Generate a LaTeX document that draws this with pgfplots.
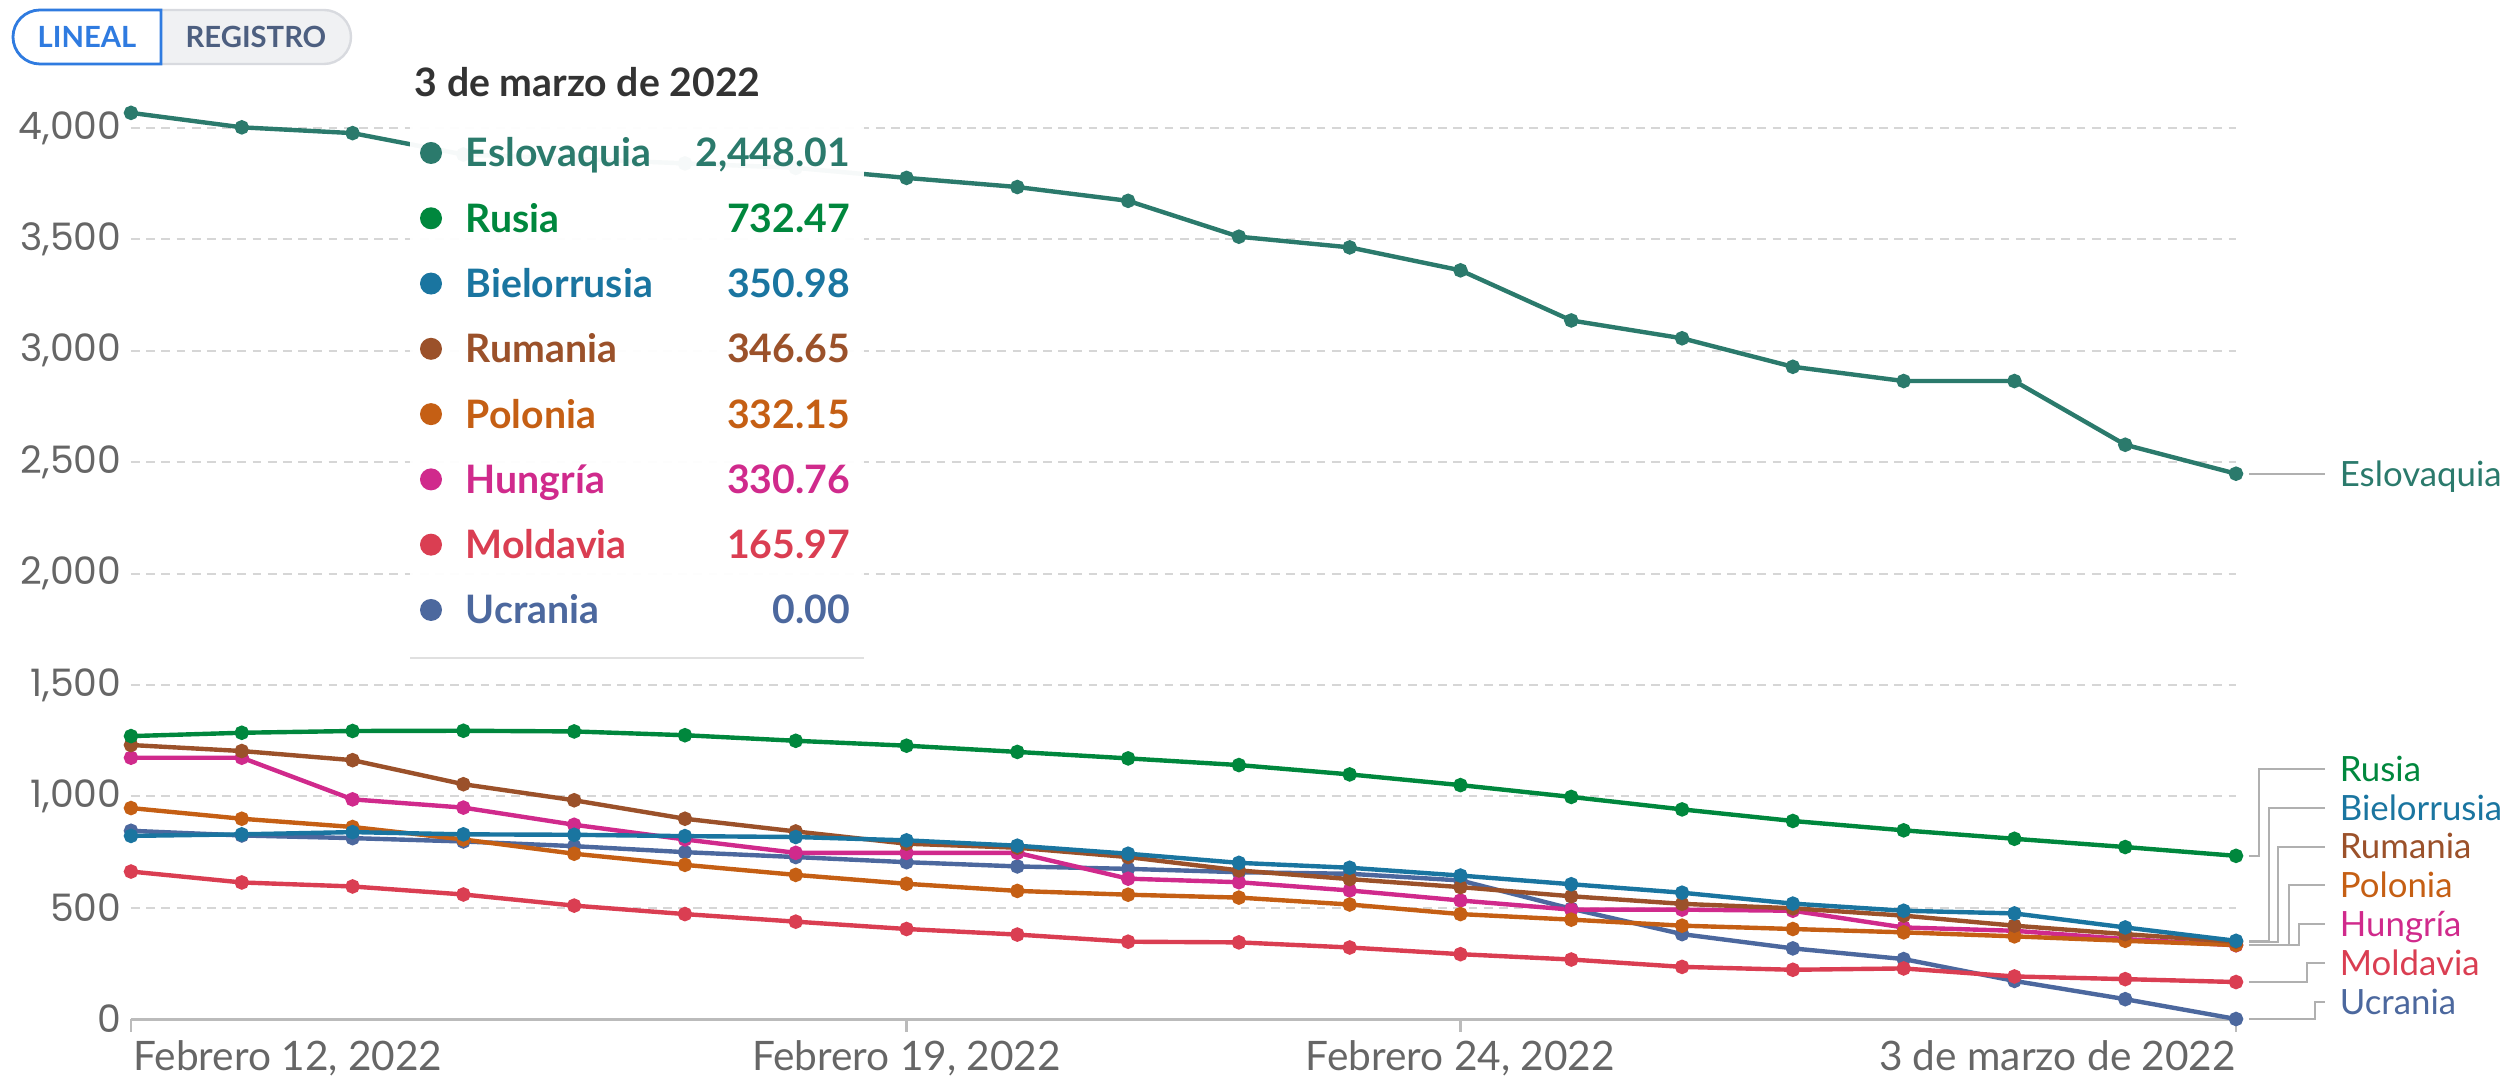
\documentclass[border=0pt]{standalone}
\usepackage{fontspec}
\setmainfont{Lato}
\newfontfamily\pop{Poppins}
\usepackage{pgfplots}
\usepackage{pgfplotstable}
\pgfplotsset{compat=1.18}

\definecolor{esl}{HTML}{2B7A6C}
\definecolor{rus}{HTML}{00873D}
\definecolor{bie}{HTML}{1A75A0}
\definecolor{rum}{HTML}{9B512A}
\definecolor{pol}{HTML}{C55F14}
\definecolor{hun}{HTML}{D02A8C}
\definecolor{mol}{HTML}{DA3E52}
\definecolor{ucr}{HTML}{4C689E}
\definecolor{tickgray}{HTML}{666666}
\definecolor{axisgray}{HTML}{BBBBBB}
\definecolor{gridgray}{HTML}{D6D6D6}
\definecolor{leadgray}{HTML}{B0B0B0}
\definecolor{linblue}{HTML}{2F7BE0}
\definecolor{regtext}{HTML}{4D5F80}
\definecolor{regfill}{HTML}{F0F1F3}
\definecolor{regborder}{HTML}{D8DADF}

% dias desde el 12 de febrero de 2022
\pgfplotstableread{
d  esl      rus     bie     rum     pol     hun     mol     ucr
0  4068     1270    822     1230    947     1173    662     845
1  4003     1285    829     1203    899     1173    613     824
2  3977     1293    839     1162    862     986     595     812
3  3881     1294    829     1054    806     949     559     797
4  3862     1291    827     982     742     872     509     776
5  3841     1274    821     899     692     806     471     749
6  3821     1249    817     842     647     746     437     727
7  3776     1227    802     787     607     746     404     704
8  3735     1199    778     769     575     746     379     685
9  3673     1170    742     727     558     630     347     674
10 3512     1140    701     667     545     614     344     659
11 3464     1098    679     628     514     577     321     652
12 3361     1050    644     592     471     532     291     622
13 3136     997     605     551     446     491     267     495
14 3056     941     567     517     419     491     234     381
15 2928     889     518     497     404     486     221     317
16 2864     847     486     464     389     411     227     269
17 2864     809     474     419     371     396     191     171
18 2578     772     411     381     351     359     179     89
19 2448.01  732.47  350.98  346.65  332.15  330.76  165.97  0
}\datos

\newcommand\lab{\fontsize{8.7}{8.7}\selectfont}
\newcommand\tip{\bfseries\fontsize{9.8}{9.8}\selectfont}

\begin{document}
\begin{tikzpicture}
\useasboundingbox (-32.75pt,-15.5pt) rectangle (593.25pt,254.75pt);
\begin{axis}[
  at={(0pt,0pt)}, anchor=south west,
  scale only axis, width=526.25pt, height=222.75pt,
  xmin=0, xmax=19, ymin=0, ymax=4000,
  clip=false,
  axis line style={draw=none},
  xtick={0,7,12,19},
  xticklabels={\rlap{\hspace{0.6pt}Febrero 12, 2022},{Febrero 19, 2022},{Febrero 24, 2022},\llap{3 de marzo de 2022}},
  xtick pos=bottom, tick align=outside, major tick length=3.2pt,
  xtick style={draw=axisgray, line width=0.6pt},
  xticklabel style={font=\fontsize{10.15}{10.15}\selectfont, text=tickgray, anchor=north, inner sep=0pt, yshift=-2pt},
  ytick={0,500,...,4000},
  yticklabels={0,500,{1,000},{1,500},{2,000},{2,500},{3,000},{3,500},{4,000}},
  ytick style={draw=none},
  yticklabel style={font=\pop\fontsize{9.45}{9.45}\selectfont, text=tickgray, anchor=east, inner sep=0pt, xshift=1pt},
  ymajorgrids,
  grid style={gridgray, line width=0.5pt, dash pattern=on 2.2pt off 1.6pt},
  every axis plot/.append style={line width=1.1pt, mark=*, mark size=1.25pt},
]
\draw[axisgray, line width=0.75pt] (axis cs:0,0) -- (axis cs:19,0);
\addplot[ucr, mark options={fill=ucr}] table[x=d, y=ucr] {\datos};
\addplot[mol, mark options={fill=mol}] table[x=d, y=mol] {\datos};
\addplot[hun, mark options={fill=hun}] table[x=d, y=hun] {\datos};
\addplot[pol, mark options={fill=pol}] table[x=d, y=pol] {\datos};
\addplot[rum, mark options={fill=rum}] table[x=d, y=rum] {\datos};
\addplot[bie, mark options={fill=bie}] table[x=d, y=bie] {\datos};
\addplot[rus, mark options={fill=rus}] table[x=d, y=rus] {\datos};
\addplot[esl, mark options={fill=esl}] table[x=d, y=esl] {\datos};

% etiquetas de la derecha
\begin{scope}[leadgray, line width=0.5pt]
\draw (axis cs:19.115,2448.01) -- (axis cs:19.80,2448.01);
\draw (axis cs:19.115,732.47) -- (axis cs:19.21,732.47) -- (axis cs:19.21,1122) -- (axis cs:19.80,1122);
\draw (axis cs:19.115,350.98) -- (axis cs:19.30,350.98) -- (axis cs:19.30,948) -- (axis cs:19.80,948);
\draw (axis cs:19.115,346.65) -- (axis cs:19.38,346.65) -- (axis cs:19.38,774) -- (axis cs:19.80,774);
\draw (axis cs:19.115,332.15) -- (axis cs:19.48,332.15) -- (axis cs:19.48,600) -- (axis cs:19.80,600);
\draw (axis cs:19.115,330.76) -- (axis cs:19.57,330.76) -- (axis cs:19.57,426) -- (axis cs:19.80,426);
\draw (axis cs:19.115,165.97) -- (axis cs:19.64,165.97) -- (axis cs:19.64,252) -- (axis cs:19.80,252);
\draw (axis cs:19.115,0) -- (axis cs:19.71,0) -- (axis cs:19.71,78) -- (axis cs:19.80,78);
\end{scope}
\begin{scope}[every node/.style={anchor=base west, inner sep=0pt, yshift=-3.1pt, font=\lab}]
\node[text=esl] at (axis cs:19.93,2448.01) {Eslovaquia};
\node[text=rus] at (axis cs:19.93,1122) {Rusia};
\node[text=bie] at (axis cs:19.93,948) {Bielorrusia};
\node[text=rum] at (axis cs:19.93,774) {Rumania};
\node[text=pol] at (axis cs:19.93,600) {Polonia};
\node[text=hun] at (axis cs:19.93,426) {Hungría};
\node[text=mol] at (axis cs:19.93,252) {Moldavia};
\node[text=ucr] at (axis cs:19.93,78) {Ucrania};
\end{scope}
\end{axis}

% botones
\draw[regborder, fill=regfill, line width=0.6pt, rounded corners=6.75pt] (-29.5pt,238.75pt) rectangle (55pt,252.25pt);
\draw[linblue, fill=white, line width=0.7pt] (7.5pt,252.25pt) [rounded corners=6.75pt] -- (-29.5pt,252.25pt) -- (-29.5pt,238.75pt) [sharp corners] -- (7.5pt,238.75pt) -- cycle;
\node[font=\bfseries\fontsize{7.3}{7.3}\selectfont, text=linblue] at (-11pt,245.5pt) {LINEAL};
\node[font=\bfseries\fontsize{7.3}{7.3}\selectfont, text=regtext] at (31.25pt,245.5pt) {REGISTRO};

% recuadro de informacion
\fill[white, fill opacity=0.96] (69.75pt,90.25pt) rectangle (183.25pt,239.75pt);
\draw[black!12, line width=0.4pt] (69.75pt,90.25pt) -- (183.25pt,90.25pt);
\node[anchor=base west, inner sep=0pt, font=\tip, text=black!80] at (70.75pt,230.5pt) {3 de marzo de 2022};
\begin{scope}[every node/.style={inner sep=0pt, font=\tip}]
\foreach \c/\n/\v [count=\k from 0] in {esl/Eslovaquia/{2,448.01}, rus/Rusia/732.47, bie/Bielorrusia/350.98, rum/Rumania/346.65, pol/Polonia/332.15, hun/Hungría/330.76, mol/Moldavia/165.97, ucr/Ucrania/0.00}{
  \pgfmathsetmacro\yy{216.5-16.32*\k}
  \fill[\c] (75pt,\yy pt) circle (2.75pt);
  \node[anchor=base west, text=\c] at (83.5pt,\yy pt-3.5pt) {\n};
  \node[anchor=base east, text=\c] at (180pt,\yy pt-3.5pt) {\v};
}
\end{scope}
\end{tikzpicture}
\end{document}
